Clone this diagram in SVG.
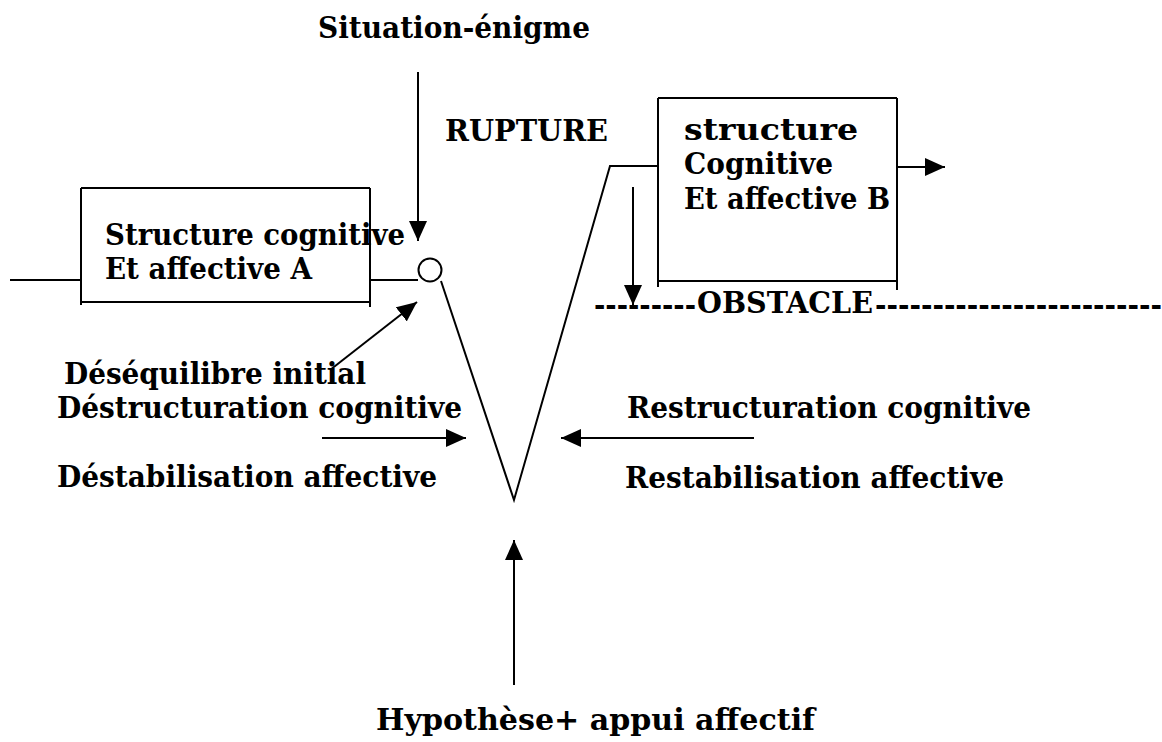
<svg xmlns="http://www.w3.org/2000/svg" width="1162" height="742" viewBox="0 0 1162 742">
<style>
text{font-family:"DejaVu Serif Condensed","DejaVu Serif","Liberation Serif",serif;font-weight:bold;font-size:29px;fill:#000}
.ln{stroke:#000;stroke-width:2;fill:none}
.arr{stroke:#000;stroke-width:2;fill:none;marker-end:url(#ah)}
</style>
<defs>
<marker id="ah" markerUnits="userSpaceOnUse" markerWidth="20" markerHeight="18" refX="20" refY="9" orient="auto">
<path d="M0,0 L20,9 L0,18 z" fill="#000"/>
</marker>
</defs>
<rect width="1162" height="742" fill="#fff"/>
<g id="connectors">
<line class="ln" x1="10" y1="280" x2="81" y2="280"/>
<line class="ln" x1="370" y1="280" x2="418" y2="280"/>
<line class="arr" x1="418" y1="72" x2="418" y2="241"/>
<line class="arr" x1="330" y1="370" x2="417" y2="302"/>
<polyline class="ln" points="441,281 514,500 610,166 658,166"/>
<line class="arr" x1="633" y1="187" x2="633" y2="305"/>
<line class="arr" x1="897" y1="167" x2="945" y2="167"/>
<line class="arr" x1="322" y1="438" x2="466" y2="438"/>
<line class="arr" x1="754" y1="438" x2="561" y2="438"/>
<line class="arr" x1="514" y1="685" x2="514" y2="540"/>
</g>
<g id="situation"><text x="318" y="38" textLength="272" lengthAdjust="spacingAndGlyphs">Situation-énigme</text></g>
<g id="rupture"><text x="445" y="141" textLength="163" lengthAdjust="spacingAndGlyphs">RUPTURE</text></g>
<g id="structureA">
<line class="ln" x1="81" y1="188" x2="370" y2="188"/>
<line class="ln" x1="81" y1="302" x2="370" y2="302"/>
<line class="ln" x1="81" y1="188" x2="81" y2="305"/>
<line class="ln" x1="370" y1="188" x2="370" y2="307"/>
<text x="105" y="245" textLength="300" lengthAdjust="spacingAndGlyphs">Structure cognitive</text>
<text x="105" y="279" textLength="207" lengthAdjust="spacingAndGlyphs">Et affective A</text>
</g>
<g id="junction"><circle cx="430" cy="270" r="11.5" fill="#fff" stroke="#000" stroke-width="2"/></g>
<g id="structureB">
<line class="ln" x1="658" y1="98" x2="897" y2="98"/>
<line class="ln" x1="658" y1="281" x2="897" y2="281"/>
<line class="ln" x1="658" y1="98" x2="658" y2="287"/>
<line class="ln" x1="897" y1="98" x2="897" y2="290"/>
<text x="684" y="140" textLength="174" lengthAdjust="spacingAndGlyphs">structure</text>
<text x="684" y="174" textLength="149" lengthAdjust="spacingAndGlyphs">Cognitive</text>
<text x="684" y="209" textLength="206" lengthAdjust="spacingAndGlyphs">Et affective B</text>
</g>
<g id="obstacle">
<text x="594" y="315" textLength="102" lengthAdjust="spacingAndGlyphs">---------</text>
<text x="697" y="313" textLength="176" lengthAdjust="spacingAndGlyphs">OBSTACLE</text>
<text x="875" y="315" textLength="287" lengthAdjust="spacingAndGlyphs">-------------------------</text>
</g>
<g id="desequilibre"><text x="64" y="384" textLength="302" lengthAdjust="spacingAndGlyphs">Déséquilibre initial</text></g>
<g id="destructuration">
<text x="57" y="418" textLength="405" lengthAdjust="spacingAndGlyphs">Déstructuration cognitive</text>
<text x="57" y="487" textLength="380" lengthAdjust="spacingAndGlyphs">Déstabilisation affective</text>
</g>
<g id="restructuration">
<text x="627" y="418" textLength="404" lengthAdjust="spacingAndGlyphs">Restructuration cognitive</text>
<text x="625" y="488" textLength="379" lengthAdjust="spacingAndGlyphs">Restabilisation affective</text>
</g>
<g id="hypothese"><text x="376" y="730" textLength="439" lengthAdjust="spacingAndGlyphs">Hypothèse+ appui affectif</text></g>
</svg>
